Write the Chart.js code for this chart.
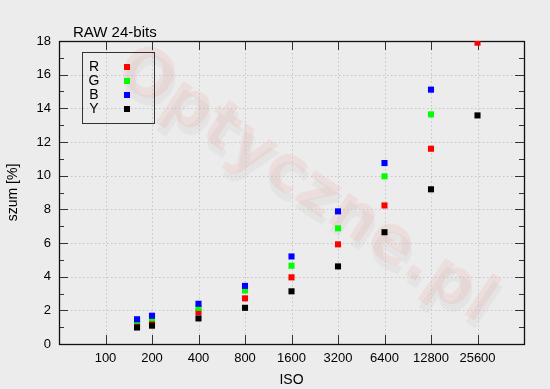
<!DOCTYPE html>
<html>
<head>
<meta charset="utf-8">
<script src="https://cdn.jsdelivr.net/npm/chart.js@4/dist/chart.umd.min.js"></script>
<style>
  html, body { margin: 0; padding: 0; background: #ececec; }
  #wrap { width: 550px; height: 389px; }
</style>
</head>
<body>
<div id="wrap"><canvas id="chart" width="550" height="389"></canvas></div>
<script>
// ISO values where noise was measured
const isoValues = [160, 200, 400, 800, 1600, 3200, 6400, 12800, 25600];

// noise [%] per channel (null = off the top of the chart)
const noiseR = [1.20, 1.32, 1.90, 2.71, 3.96, 5.92, 8.23, 11.60, 17.90];
const noiseG = [1.38, 1.52, 2.15, 3.18, 4.65, 6.87, 9.96, 13.64, null];
const noiseB = [1.47, 1.68, 2.39, 3.45, 5.20, 7.88, 10.75, 15.11, null];
const noiseY = [0.98, 1.09, 1.52, 2.15, 3.13, 4.61, 6.64, 9.19, 13.58];

const isoTicks = [100, 200, 400, 800, 1600, 3200, 6400, 12800, 25600];
const yTicks = [0, 2, 4, 6, 8, 10, 12, 14, 16, 18];

const channels = [
    { label: 'R', data: noiseR, color: '#ff0000', order: 4 },
    { label: 'G', data: noiseG, color: '#00ff00', order: 3 },
    { label: 'B', data: noiseB, color: '#0000ff', order: 2 },
    { label: 'Y', data: noiseY, color: '#000000', order: 1 }
];

const FONT = '"Liberation Sans", Arial, sans-serif';

function toPoints(values) {
    const pts = [];
    values.forEach((v, i) => { if (v !== null) pts.push({ x: isoValues[i], y: v }); });
    return pts;
}

// watermark, dotted grid, frame and inward ticks (gnuplot look)
const framePlugin = {
    id: 'frame',
    beforeDatasetsDraw(chart) {
        const { ctx, chartArea: a, scales: { x, y } } = chart;
        ctx.save();

        // watermark
        ctx.save();
        ctx.translate(305, 186);
        ctx.rotate(34 * Math.PI / 180);
        ctx.font = 'bold 66px "DejaVu Sans", sans-serif';
        ctx.textAlign = 'center';
        ctx.textBaseline = 'middle';
        ctx.fillStyle = 'rgba(0,0,0,0.03)';
        ctx.fillText('Optyczne.pl', 5, 6);
        ctx.fillStyle = 'rgba(255,0,0,0.06)';
        ctx.fillText('Optyczne.pl', 0, 0);
        ctx.restore();

        // dotted grid
        ctx.strokeStyle = '#c6c6c6';
        ctx.lineWidth = 1;
        ctx.setLineDash([1.5, 2.5]);
        ctx.beginPath();
        isoTicks.forEach(v => {
            const px = Math.round(x.getPixelForValue(v)) + 0.5;
            ctx.moveTo(px, a.top); ctx.lineTo(px, a.bottom);
        });
        yTicks.slice(1, -1).forEach(v => {
            const py = Math.round(y.getPixelForValue(v)) + 0.5;
            ctx.moveTo(a.left, py); ctx.lineTo(a.right, py);
        });
        ctx.stroke();
        ctx.setLineDash([]);

        // inward ticks
        ctx.strokeStyle = '#333';
        ctx.beginPath();
        isoTicks.forEach(v => {
            const px = Math.round(x.getPixelForValue(v)) + 0.5;
            ctx.moveTo(px, a.bottom); ctx.lineTo(px, a.bottom - 9);
            ctx.moveTo(px, a.top); ctx.lineTo(px, a.top + 9);
        });
        for (let v = 1; v < 18; v++) {
            const py = Math.round(y.getPixelForValue(v)) + 0.5;
            const len = v % 2 === 0 ? 9 : 5;
            ctx.moveTo(a.left, py); ctx.lineTo(a.left + len, py);
            ctx.moveTo(a.right, py); ctx.lineTo(a.right - len, py);
        }
        ctx.stroke();

        // frame
        ctx.strokeStyle = '#111';
        ctx.lineWidth = 1.3;
        ctx.strokeRect(Math.round(a.left) + 0.5, Math.round(a.top) + 0.5,
            Math.round(a.right - a.left), Math.round(a.bottom - a.top));
        ctx.restore();
    },
    afterDraw(chart) {
        const { ctx } = chart;
        ctx.save();
        // title
        ctx.fillStyle = '#000';
        ctx.font = '15px ' + FONT;
        ctx.textBaseline = 'middle';
        ctx.fillText('RAW 24-bits', 73, 33);

        // legend box
        ctx.strokeStyle = '#333';
        ctx.lineWidth = 1;
        ctx.strokeRect(82.5, 52.5, 72, 71);
        ctx.font = '14px ' + FONT;
        channels.forEach((c, i) => {
            const cy = 67 + i * 14;
            ctx.fillStyle = '#000';
            ctx.textAlign = 'center';
            ctx.fillText(c.label, 94, cy);
            ctx.fillStyle = c.color;
            ctx.fillRect(124, cy - 3, 6, 6);
        });
        ctx.restore();
    }
};

new Chart(document.getElementById('chart'), {
    type: 'scatter',
    data: {
        datasets: channels.map(c => ({
            label: c.label,
            data: toPoints(c.data),
            order: c.order,
            pointStyle: 'rect',
            pointRadius: 4.3,
            pointBorderWidth: 0,
            backgroundColor: c.color,
            borderColor: c.color
        }))
    },
    options: {
        responsive: false,
        animation: false,
        devicePixelRatio: 1,
        layout: { padding: { top: 41, right: 26, left: 0, bottom: 0 } },
        plugins: { legend: { display: false }, tooltip: { enabled: false } },
        scales: {
            x: {
                type: 'logarithmic',
                min: 50,
                max: 51200,
                afterBuildTicks: s => { s.ticks = isoTicks.map(v => ({ value: v })); },
                afterFit: s => { s.height = 45; },
                grid: { display: false, drawTicks: false },
                border: { display: false },
                ticks: {
                    autoSkip: false, maxRotation: 0, padding: 7, color: '#000',
                    font: { family: FONT, size: 13 },
                    callback: v => String(v)
                },
                title: {
                    display: true, text: 'ISO', color: '#000',
                    font: { family: FONT, size: 14 },
                    padding: { top: 0, bottom: 0 }
                }
            },
            y: {
                min: 0,
                max: 18,
                afterBuildTicks: s => { s.ticks = yTicks.map(v => ({ value: v })); },
                afterFit: s => { s.width = 59; },
                grid: { display: false, drawTicks: false },
                border: { display: false },
                ticks: {
                    padding: 8, color: '#000',
                    font: { family: FONT, size: 13 }
                },
                title: {
                    display: true, text: 'szum [%]', color: '#000',
                    font: { family: FONT, size: 14 },
                    padding: { top: 5, bottom: 0 }
                }
            }
        }
    },
    plugins: [framePlugin]
});
</script>
</body>
</html>
